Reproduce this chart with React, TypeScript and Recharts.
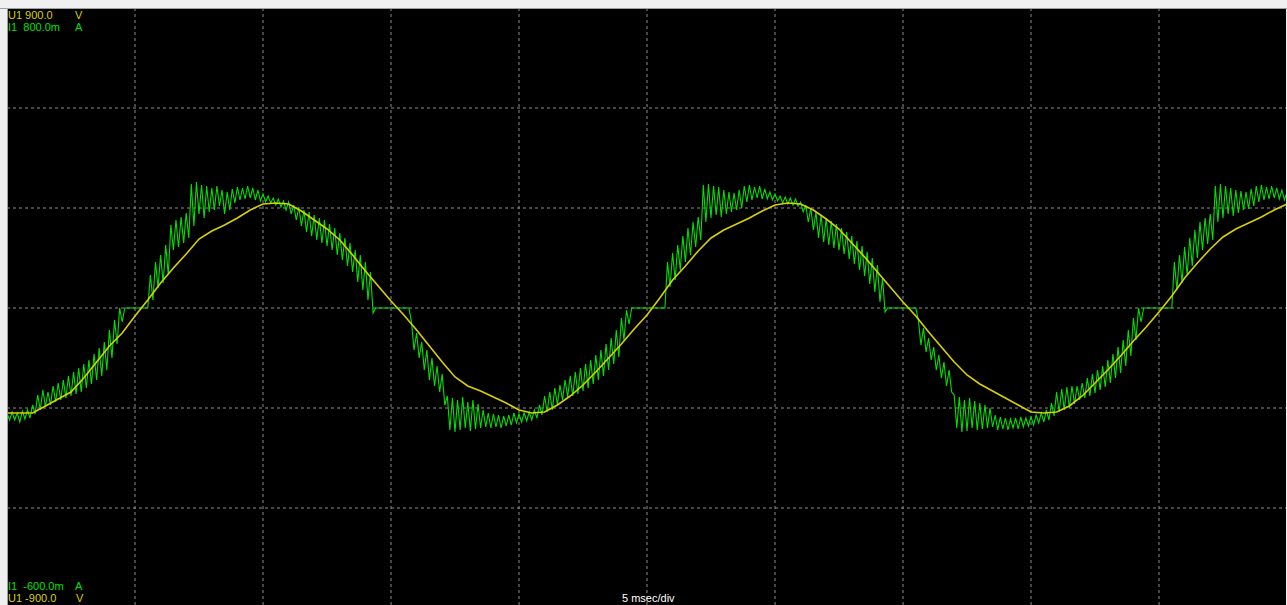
import React from 'react';
import { LineChart, Line, XAxis, YAxis, CartesianGrid } from 'recharts';

// time base: 5 msec/div, 10 divisions
const timeTicks = [0, 5, 10, 15, 20, 25, 30, 35, 40, 45, 50];
const voltTicks = [-900, -600, -300, 0, 300, 600, 900];

const V_PER_DIV = 300;
const MA_PER_DIV = 800 / 3;

// U1 in divisions, one sample every 0.5 ms
const U1_STEP_MS = 0.5;
const u1Div = [
  -1.05, -1.05, -1.05, -0.98, -0.91, -0.84, -0.7, -0.54, -0.38, -0.25,
  -0.08, 0.08, 0.25, 0.4, 0.54, 0.69, 0.77, 0.83, 0.9, 0.98,
  1.04, 1.05, 1.04, 0.97, 0.88, 0.79, 0.68, 0.53, 0.37, 0.22,
  0.07, -0.07, -0.22, -0.38, -0.54, -0.69, -0.78, -0.83, -0.89, -0.95,
  -1.02, -1.05, -1.04, -0.97, -0.88, -0.77, -0.64, -0.5, -0.36, -0.21,
  -0.07, 0.1, 0.28, 0.42, 0.57, 0.7, 0.78, 0.84, 0.9, 0.97,
  1.03, 1.05, 1.04, 0.98, 0.89, 0.79, 0.65, 0.51, 0.36, 0.21,
  0.06, -0.08, -0.24, -0.39, -0.54, -0.67, -0.76, -0.83, -0.9, -0.97,
  -1.04, -1.05, -1.04, -0.98, -0.88, -0.75, -0.62, -0.48, -0.33, -0.19,
  -0.04, 0.12, 0.3, 0.45, 0.59, 0.71, 0.79, 0.85, 0.91, 0.98,
  1.04,
];

// I1 ripple, upper and lower peaks in divisions, one pair every 0.2 ms
const I1_STEP_MS = 0.2;
const i1HiDiv = [
  -1.05, -1.04, -1.05, -1.03, -1.02, -0.97, -0.87, -0.82, -0.84, -0.78,
  -0.75, -0.72, -0.68, -0.64, -0.6, -0.56, -0.52, -0.46, -0.4, -0.34,
  -0.22, -0.12, 0, 0, 0, 0, 0, 0, 0.33, 0.46,
  0.53, 0.63, 0.83, 0.88, 0.91, 0.95, 1.24, 1.26, 1.23, 1.22,
  1.2, 1.22, 1.18, 1.16, 1.19, 1.21, 1.2, 1.22, 1.2, 1.18,
  1.14, 1.12, 1.1, 1.09, 1.07, 1.06, 1.03, 1.01, 0.98, 0.96,
  0.93, 0.9, 0.88, 0.84, 0.8, 0.75, 0.7, 0.65, 0.58, 0.53,
  0.46, 0.36, 0, 0, 0, 0, 0, 0, 0, -0.14,
  -0.25, -0.34, -0.42, -0.5, -0.58, -0.66, -0.88, -0.9, -0.92, -0.89,
  -0.94, -0.92, -0.96, -1.02, -1.05, -1.06, -1.07, -1.08, -1.07, -1.05,
  -1.06, -1.05, -1.04, -1.02, -0.97, -0.88, -0.84, -0.8, -0.77, -0.72,
  -0.68, -0.64, -0.6, -0.56, -0.52, -0.47, -0.42, -0.36, -0.3, -0.22,
  -0.1, -0.02, 0, 0, 0, 0, 0, 0, 0, 0.46,
  0.55, 0.63, 0.72, 0.8, 0.86, 0.91, 1.23, 1.24, 1.22, 1.21,
  1.18, 1.16, 1.15, 1.18, 1.22, 1.23, 1.21, 1.22, 1.19, 1.16,
  1.14, 1.12, 1.11, 1.1, 1.09, 1.06, 1.03, 1.0, 0.96, 0.93,
  0.9, 0.87, 0.84, 0.8, 0.76, 0.72, 0.67, 0.62, 0.56, 0.5,
  0.43, 0.3, 0, 0, 0, 0, 0, 0, -0.12, -0.2,
  -0.3, -0.39, -0.47, -0.54, -0.62, -0.87, -0.89, -0.92, -0.9, -0.93,
  -0.95, -0.97, -1.0, -1.07, -1.09, -1.1, -1.11, -1.1, -1.09, -1.1,
  -1.09, -1.07, -1.05, -1.02, -0.95, -0.84, -0.81, -0.79, -0.78, -0.78,
  -0.75, -0.7, -0.66, -0.62, -0.58, -0.52, -0.46, -0.39, -0.32, -0.22,
  -0.1, 0, 0, 0, 0, 0, 0, 0, 0.46, 0.53,
  0.61, 0.7, 0.78, 0.86, 0.9, 0.94, 1.22, 1.24, 1.22, 1.2,
  1.18, 1.17, 1.16, 1.19, 1.22, 1.23, 1.21, 1.22, 1.2, 1.18,
  1.16,
];
const i1LoDiv = [
  -1.12, -1.12, -1.14, -1.11, -1.1, -1.06, -1.02, -0.99, -0.97, -0.94,
  -0.92, -0.9, -0.88, -0.86, -0.84, -0.8, -0.76, -0.72, -0.68, -0.62,
  -0.5, -0.36, -0.14, 0, 0, 0, 0, 0, 0.08, 0.2,
  0.25, 0.33, 0.58, 0.61, 0.65, 0.7, 0.82, 0.94, 0.9, 0.96,
  0.98, 1.02, 0.94, 0.98, 1.05, 1.08, 1.09, 1.1, 1.08, 1.07,
  1.06, 1.05, 1.03, 1.01, 0.98, 0.94, 0.88, 0.82, 0.76, 0.72,
  0.68, 0.65, 0.62, 0.58, 0.53, 0.48, 0.42, 0.36, 0.26, 0.18,
  0.08, -0.05, 0, 0, 0, 0, 0, 0, 0, -0.42,
  -0.5, -0.62, -0.72, -0.78, -0.84, -0.97, -1.22, -1.24, -1.22, -1.2,
  -1.23, -1.21, -1.2, -1.19, -1.2, -1.19, -1.2, -1.18, -1.17, -1.15,
  -1.14, -1.13, -1.12, -1.1, -1.07, -1.04, -1.02, -0.97, -0.92, -0.89,
  -0.88, -0.86, -0.83, -0.8, -0.76, -0.72, -0.68, -0.62, -0.56, -0.49,
  -0.32, -0.16, 0, 0, 0, 0, 0, 0, 0, 0.21,
  0.28, 0.38, 0.46, 0.53, 0.61, 0.68, 0.86, 0.9, 0.93, 0.91,
  0.94, 0.96, 0.98, 1.0, 1.06, 1.08, 1.1, 1.09, 1.09, 1.08,
  1.07, 1.05, 1.04, 1.03, 1.02, 0.96, 0.86, 0.78, 0.7, 0.66,
  0.63, 0.6, 0.58, 0.54, 0.49, 0.44, 0.38, 0.32, 0.24, 0.16,
  0.06, -0.04, 0, 0, 0, 0, 0, 0, -0.37, -0.44,
  -0.52, -0.62, -0.7, -0.78, -0.84, -1.2, -1.24, -1.23, -1.2, -1.22,
  -1.21, -1.2, -1.19, -1.22, -1.21, -1.22, -1.2, -1.21, -1.19, -1.18,
  -1.17, -1.15, -1.14, -1.12, -1.08, -1.04, -1.02, -1.0, -0.96, -0.92,
  -0.9, -0.88, -0.85, -0.82, -0.79, -0.75, -0.7, -0.65, -0.58, -0.48,
  -0.32, -0.14, 0, 0, 0, 0, 0, 0, 0.18, 0.25,
  0.33, 0.42, 0.5, 0.58, 0.64, 0.68, 0.86, 0.9, 0.94, 0.92,
  0.95, 0.98, 0.99, 1.02, 1.06, 1.08, 1.09, 1.1, 1.09, 1.08,
  1.07,
];

const voltageData = u1Div.map((d, k) => ({ t: k * U1_STEP_MS, u: d * V_PER_DIV }));

// alternate upper / lower peaks to get the ripple
const currentData = i1HiDiv.flatMap((hi, k) => [
  { t: k * I1_STEP_MS, i: hi * MA_PER_DIV },
  { t: k * I1_STEP_MS + I1_STEP_MS / 2, i: i1LoDiv[k] * MA_PER_DIV },
]);

const labelStyle: React.CSSProperties = {
  position: 'absolute',
  fontSize: 11,
  lineHeight: '11px',
  whiteSpace: 'pre',
};

const YELLOW = '#d8d000';
const GREEN = '#00e000';

export default function App() {
  return (
    <div
      style={{
        position: 'absolute',
        left: 0,
        top: 0,
        width: 1287,
        height: 605,
        background: '#f0f0f0',
        overflow: 'hidden',
        fontFamily: 'Arial, "Liberation Sans", sans-serif',
      }}
    >
      <div style={{ position: 'absolute', left: 7, top: 8, width: 1280, height: 600, background: '#000' }}>
        <LineChart width={1280} height={600} margin={{ top: 0, right: 0, bottom: 0, left: 0 }}>
          <CartesianGrid stroke="#8c8c8c" strokeDasharray="3 3" />
          <XAxis type="number" dataKey="t" domain={[0, 50]} ticks={timeTicks} allowDataOverflow hide />
          <YAxis type="number" domain={[-900, 900]} ticks={voltTicks} allowDataOverflow hide />
          <YAxis yAxisId="i" type="number" domain={[-800, 800]} allowDataOverflow hide />
          <Line
            yAxisId="i"
            data={currentData}
            dataKey="i"
            type="linear"
            stroke={GREEN}
            strokeWidth={1.1}
            dot={false}
            isAnimationActive={false}
          />
          <Line
            data={voltageData}
            dataKey="u"
            type="linear"
            stroke={YELLOW}
            strokeWidth={1.6}
            dot={false}
            isAnimationActive={false}
          />
        </LineChart>
      </div>

      {/* frame */}
      <div style={{ position: 'absolute', left: 0, top: 8, width: 1287, height: 1, background: '#a0a0a0' }} />
      <div style={{ position: 'absolute', left: 7, top: 8, width: 1, height: 597, background: '#a0a0a0' }} />
      <div style={{ position: 'absolute', left: 1286, top: 9, width: 1, height: 596, background: '#f0f0f0' }} />

      {/* scale readouts */}
      <span style={{ ...labelStyle, left: 8, top: 10, color: YELLOW }}>U1 900.0</span>
      <span style={{ ...labelStyle, left: 75, top: 10, color: YELLOW }}>V</span>
      <span style={{ ...labelStyle, left: 8, top: 22, color: GREEN }}>I1  800.0m</span>
      <span style={{ ...labelStyle, left: 75, top: 22, color: GREEN }}>A</span>

      <span style={{ ...labelStyle, left: 8, top: 581, color: GREEN }}>I1  -600.0m</span>
      <span style={{ ...labelStyle, left: 75, top: 581, color: GREEN }}>A</span>
      <span style={{ ...labelStyle, left: 8, top: 593, color: YELLOW }}>U1 -900.0</span>
      <span style={{ ...labelStyle, left: 76, top: 593, color: YELLOW }}>V</span>

      <span style={{ ...labelStyle, left: 622, top: 593, color: '#ffffff' }}>5 msec/div</span>
    </div>
  );
}
